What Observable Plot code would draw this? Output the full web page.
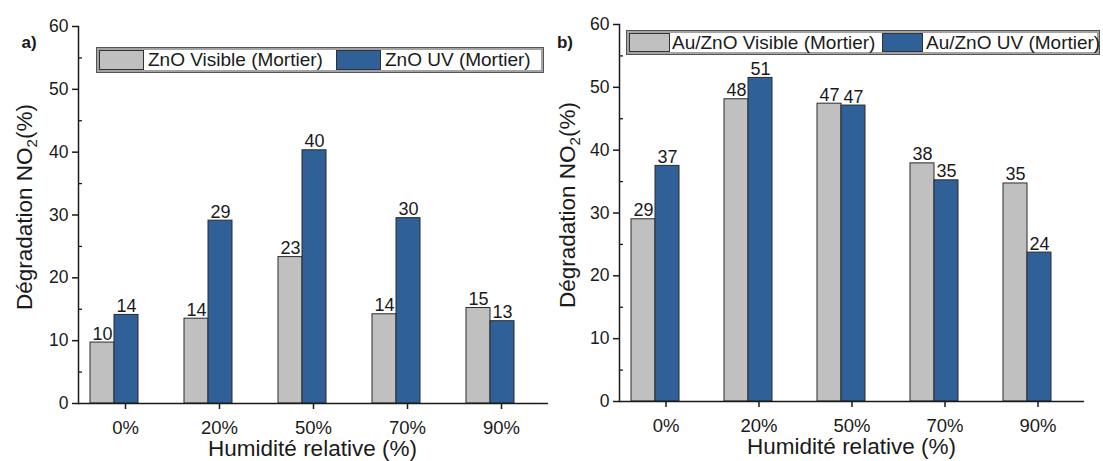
<!DOCTYPE html>
<html><head><meta charset="utf-8">
<script src="https://cdn.jsdelivr.net/npm/d3@7"></script>
<script src="https://cdn.jsdelivr.net/npm/@observablehq/plot@0.6"></script>
<style>
body{margin:0;background:#fff;font-family:"Liberation Sans",Arial,sans-serif;}
#wrap{position:relative;width:1103px;height:461px;overflow:hidden;background:#fff;}
.panel{position:absolute;top:0;}
.legend{position:absolute;box-sizing:border-box;border:1px solid #555;box-shadow:inset 0 0 0 2px #a3a3a3;background:#fff;font-size:19px;color:#1a1a1a;}
.sw{position:absolute;box-sizing:border-box;border:1px solid #333;}
.lt{position:absolute;white-space:nowrap;top:0;}
</style></head><body><div id="wrap"></div>
<script>
// ---- data ----
const humidity = ["0%", "20%", "50%", "70%", "90%"];
const seriesKeys = ["Visible", "UV"];
const seriesColors = ["#c0c0c0", "#2f6097"];

const znoNames = ["ZnO Visible (Mortier)", "ZnO UV (Mortier)"];
const znoVisible = [9.7, 13.5, 23.3, 14.2, 15.2];
const znoUV = [14.1, 29.1, 40.3, 29.5, 13.1];
const znoVisibleLabels = ["10", "14", "23", "14", "15"];
const znoUVLabels = ["14", "29", "40", "30", "13"];

const auNames = ["Au/ZnO Visible (Mortier)", "Au/ZnO UV (Mortier)"];
const auVisible = [29.0, 48.1, 47.4, 37.9, 34.7];
const auUV = [37.5, 51.5, 47.1, 35.2, 23.7];
const auVisibleLabels = ["29", "48", "47", "38", "35"];
const auUVLabels = ["37", "51", "47", "35", "24"];

const yTicks = [0, 10, 20, 30, 40, 50, 60];
const yMinorTicks = [5, 15, 25, 35, 45, 55];
const xTitle = "Humidité relative (%)";
const yTitleParts = ["Dégradation NO", "2", "(%)"];
const panelTags = ["a)", "b)"];

const FONT = "Liberation Sans, Arial, sans-serif";
const INK = "#1a1a1a";

function makePanel(cfg) {
  const rows = humidity.flatMap((h, i) => [
    {h, s: seriesKeys[0], v: cfg.vis[i], label: cfg.visL[i]},
    {h, s: seriesKeys[1], v: cfg.uv[i], label: cfg.uvL[i]}
  ]);
  const svg = Plot.plot({
    width: cfg.width, height: 461,
    marginTop: cfg.mt, marginBottom: cfg.mb, marginLeft: cfg.ml, marginRight: cfg.mr,
    style: {fontFamily: FONT, color: INK, background: "transparent", overflow: "visible"},
    fx: {domain: humidity, padding: 0},
    x: {domain: seriesKeys, paddingInner: 0, paddingOuter: 0.884, align: 0.27, axis: null},
    y: {domain: [0, 60]},
    color: {domain: seriesKeys, range: seriesColors},
    marks: [
      Plot.barY(rows, {fx: "h", x: "s", y: "v", fill: "s", stroke: "#2b2b2b", strokeWidth: 1}),
      Plot.text(rows, {fx: "h", x: "s", y: "v", text: "label", lineAnchor: "bottom", dy: -3, fontSize: 18, fill: INK}),
      Plot.ruleY([0], {stroke: INK, strokeWidth: 1.5}),
      Plot.frame({anchor: "left", facetAnchor: "left", stroke: INK, strokeWidth: 1.5}),
      Plot.axisY({ticks: yTicks, tickSize: 6, tickPadding: 4, fontSize: 17.5, label: null, strokeWidth: 1.5, stroke: INK, fill: INK}),
      Plot.axisY({ticks: yMinorTicks, tickSize: -4, tickFormat: () => "", label: null, strokeWidth: 1.3, stroke: INK}),
      Plot.axisFx({anchor: "bottom", tickSize: 6, tickPadding: 11, fontSize: 18.5, label: null, strokeWidth: 1.5, stroke: INK, fill: INK})
    ]
  });
  const s = d3.select(svg);
  // x title
  s.append("text")
    .attr("x", (cfg.ml + cfg.width - cfg.mr) / 2).attr("y", cfg.xBase)
    .attr("text-anchor", "middle").attr("font-size", 22.5).attr("fill", INK)
    .attr("font-family", FONT).text(xTitle);
  // y title with subscript
  const yt = s.append("text")
    .attr("transform", `translate(${cfg.yX},${cfg.yC}) rotate(-90)`)
    .attr("text-anchor", "middle").attr("font-size", 22.5).attr("fill", INK)
    .attr("font-family", FONT);
  yt.append("tspan").text(yTitleParts[0]);
  yt.append("tspan").attr("font-size", 15).attr("dy", 5).text(yTitleParts[1]);
  yt.append("tspan").attr("dy", -5).text(yTitleParts[2]);
  // panel tag
  s.append("text").attr("x", cfg.tagX).attr("y", 48)
    .attr("font-size", 17).attr("font-weight", "bold").attr("fill", INK)
    .attr("font-family", FONT).text(cfg.tag);
  const div = document.createElement("div");
  div.className = "panel";
  div.style.left = cfg.left + "px";
  div.style.width = cfg.width + "px";
  div.appendChild(svg);
  return div;
}

function makeLegend(names, box) {
  const lg = document.createElement("div");
  lg.className = "legend";
  Object.assign(lg.style, {left: box.x + "px", top: box.y + "px", width: box.w + "px", height: box.h + "px"});
  names.forEach((name, i) => {
    const sw = document.createElement("div");
    sw.className = "sw";
    Object.assign(sw.style, {left: box.sw[i] + "px", top: "2px", width: box.swW + "px", height: (box.h - 6) + "px", background: seriesColors[i]});
    lg.appendChild(sw);
    const t = document.createElement("div");
    t.className = "lt";
    t.textContent = name;
    Object.assign(t.style, {left: box.tx[i] + "px", lineHeight: (box.h - 2) + "px"});
    lg.appendChild(t);
  });
  return lg;
}

const wrap = document.getElementById("wrap");
wrap.appendChild(makePanel({
  vis: znoVisible, uv: znoUV, visL: znoVisibleLabels, uvL: znoUVLabels,
  left: 0, width: 551, mt: 26, mb: 58, ml: 77, mr: 3,
  xBase: 456, yX: 31.5, yC: 207, tag: panelTags[0], tagX: 29
}));
wrap.appendChild(makePanel({
  vis: auVisible, uv: auUV, visL: auVisibleLabels, uvL: auUVLabels,
  left: 551, width: 552, mt: 24, mb: 60, ml: 66, mr: 17,
  xBase: 454, yX: 24, yC: 205, tag: panelTags[1], tagX: 14
}));
wrap.appendChild(makeLegend(znoNames, {x: 96, y: 47, w: 448, h: 26, sw: [2, 239], swW: 45, tx: [51, 288]}));
wrap.appendChild(makeLegend(auNames, {x: 626, y: 30, w: 474, h: 25, sw: [2, 255], swW: 41, tx: [45, 299]}));
</script></body></html>
